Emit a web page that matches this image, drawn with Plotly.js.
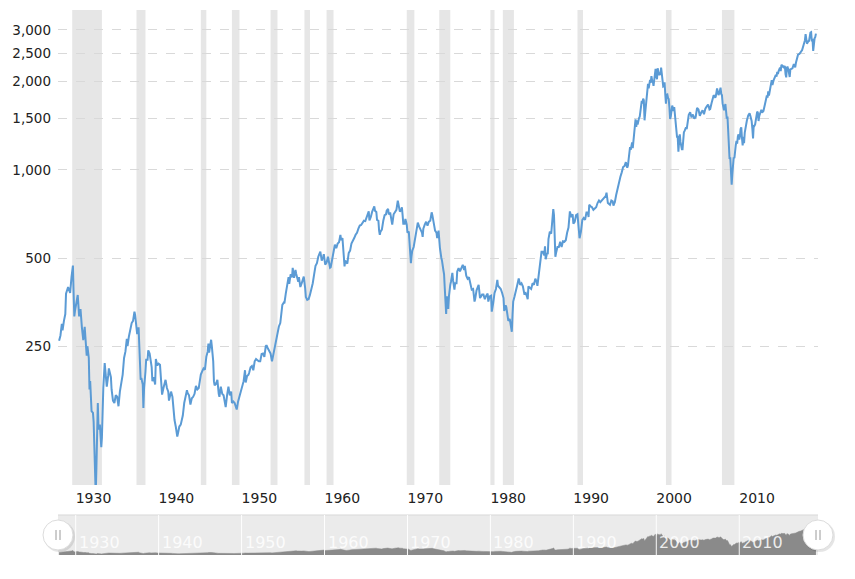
<!DOCTYPE html>
<html>
<head>
<meta charset="utf-8">
<script src="https://cdn.plot.ly/plotly-3.0.1.min.js"></script>
<style>html,body{margin:0;padding:0;background:#fff;}#chart{width:855px;height:579px;}</style>
</head>
<body>
<div id="chart"></div>
<script>
// Inflation-adjusted S&P 500 (monthly-ish readings from the reference)
const months = [
"1928-01","1928-03","1928-05","1928-06","1928-08","1928-10","1928-11","1928-12","1929-02","1929-03","1929-05","1929-07","1929-09","1929-10","1929-11","1929-12",
"1930-02","1930-04","1930-06","1930-08","1930-10","1930-12","1931-02","1931-04","1931-05","1931-06","1931-08","1931-09","1931-10","1931-12",
"1932-02","1932-03","1932-04","1932-05","1932-06","1932-07","1932-08","1932-09","1932-10","1932-11","1932-12","1933-02","1933-03","1933-04","1933-05","1933-07","1933-08","1933-10","1933-12",
"1934-01","1934-02","1934-04","1934-05","1934-07","1934-09","1934-11","1935-01","1935-03","1935-05","1935-07","1935-09","1935-11","1936-01","1936-03","1936-04","1936-06","1936-08","1936-10","1936-12",
"1937-02","1937-03","1937-04","1937-06","1937-08","1937-09","1937-10","1937-11","1937-12","1938-02","1938-03","1938-04","1938-06","1938-07","1938-09","1938-10","1938-12",
"1939-02","1939-03","1939-04","1939-06","1939-08","1939-09","1939-11","1940-01","1940-03","1940-05","1940-06","1940-08","1940-10","1940-11",
"1941-01","1941-03","1941-04","1941-07","1941-09","1941-10","1941-12","1942-02","1942-04","1942-05","1942-07","1942-09","1942-11","1942-12",
"1943-02","1943-04","1943-06","1943-07","1943-09","1943-11","1944-01","1944-03","1944-05","1944-07","1944-09","1944-11","1944-12",
"1945-02","1945-04","1945-06","1945-08","1945-10","1945-12","1946-01","1946-02","1946-04","1946-05","1946-06","1946-08","1946-09","1946-10","1946-12",
"1947-02","1947-04","1947-05","1947-07","1947-09","1947-11","1948-01","1948-02","1948-04","1948-06","1948-08","1948-10","1948-11",
"1949-01","1949-03","1949-06","1949-08","1949-10","1949-12","1950-02","1950-04","1950-06","1950-07","1950-09","1950-11","1950-12",
"1951-02","1951-04","1951-06","1951-08","1951-10","1951-12","1952-02","1952-04","1952-06","1952-08","1952-10","1952-12",
"1953-01","1953-03","1953-05","1953-07","1953-09","1953-11","1954-01","1954-03","1954-05","1954-07","1954-09","1954-11","1954-12",
"1955-02","1955-03","1955-05","1955-07","1955-09","1955-10","1955-12","1956-02","1956-03","1956-05","1956-07","1956-08","1956-10","1956-11","1956-12",
"1957-02","1957-04","1957-07","1957-09","1957-10","1957-12","1958-02","1958-04","1958-06","1958-08","1958-10","1958-12",
"1959-02","1959-04","1959-07","1959-09","1959-11","1959-12","1960-02","1960-04","1960-06","1960-07","1960-09","1960-10","1960-12",
"1961-02","1961-04","1961-06","1961-08","1961-10","1961-12","1962-01","1962-03","1962-05","1962-06","1962-07","1962-09","1962-10","1962-12",
"1963-02","1963-04","1963-06","1963-08","1963-10","1963-12","1964-02","1964-04","1964-06","1964-08","1964-10","1964-12",
"1965-02","1965-04","1965-05","1965-06","1965-08","1965-10","1965-12","1966-01","1966-02","1966-04","1966-05","1966-07","1966-08","1966-09","1966-10","1966-12",
"1967-02","1967-04","1967-06","1967-07","1967-09","1967-10","1967-12","1968-02","1968-03","1968-05","1968-07","1968-09","1968-11","1968-12",
"1969-02","1969-04","1969-05","1969-06","1969-07","1969-09","1969-10","1969-12","1970-01","1970-03","1970-04","1970-05","1970-06","1970-07","1970-08","1970-10","1970-12",
"1971-02","1971-04","1971-06","1971-08","1971-10","1971-11","1971-12","1972-02","1972-04","1972-06","1972-08","1972-10","1972-12",
"1973-01","1973-03","1973-05","1973-07","1973-08","1973-10","1973-11","1973-12","1974-02","1974-03","1974-05","1974-06","1974-07","1974-08","1974-09","1974-10","1974-11","1974-12",
"1975-01","1975-02","1975-03","1975-04","1975-06","1975-07","1975-09","1975-10","1975-12","1976-01","1976-03","1976-05","1976-07","1976-09","1976-11","1976-12",
"1977-02","1977-04","1977-06","1977-08","1977-10","1977-12","1978-02","1978-03","1978-05","1978-08","1978-10","1978-11",
"1979-01","1979-03","1979-05","1979-07","1979-09","1979-10","1979-12","1980-02","1980-03","1980-05","1980-07","1980-09","1980-11","1980-12",
"1981-02","1981-04","1981-06","1981-08","1981-09","1981-11","1981-12","1982-02","1982-03","1982-05","1982-07","1982-08","1982-09","1982-10","1982-12",
"1983-02","1983-04","1983-06","1983-08","1983-10","1983-12","1984-02","1984-04","1984-06","1984-07","1984-08","1984-10","1984-12",
"1985-02","1985-04","1985-06","1985-08","1985-09","1985-11","1985-12","1986-02","1986-03","1986-05","1986-07","1986-08","1986-09","1986-11","1986-12",
"1987-01","1987-03","1987-05","1987-07","1987-08","1987-09","1987-10","1987-11","1987-12","1988-02","1988-04","1988-06","1988-08","1988-10","1988-12",
"1989-02","1989-04","1989-06","1989-08","1989-10","1989-12","1990-01","1990-03","1990-05","1990-07","1990-08","1990-10","1990-12",
"1991-02","1991-04","1991-06","1991-08","1991-10","1991-11","1991-12","1992-02","1992-04","1992-06","1992-08","1992-10","1992-12",
"1993-02","1993-04","1993-06","1993-08","1993-10","1993-12","1994-01","1994-03","1994-06","1994-08","1994-10","1994-11","1994-12",
"1995-01","1995-03","1995-05","1995-07","1995-09","1995-11","1995-12","1996-01","1996-03","1996-05","1996-07","1996-08","1996-09","1996-11","1996-12",
"1997-01","1997-02","1997-03","1997-04","1997-05","1997-06","1997-07","1997-08","1997-09","1997-10","1997-11","1997-12",
"1998-01","1998-02","1998-03","1998-04","1998-05","1998-06","1998-07","1998-08","1998-09","1998-10","1998-11","1998-12",
"1999-01","1999-02","1999-03","1999-04","1999-05","1999-06","1999-07","1999-08","1999-09","1999-10","1999-11","1999-12",
"2000-01","2000-02","2000-03","2000-04","2000-05","2000-06","2000-07","2000-08","2000-09","2000-10","2000-11","2000-12",
"2001-01","2001-02","2001-03","2001-04","2001-05","2001-06","2001-07","2001-08","2001-09","2001-10","2001-11","2001-12",
"2002-01","2002-02","2002-03","2002-04","2002-05","2002-06","2002-07","2002-08","2002-09","2002-10","2002-11","2002-12",
"2003-01","2003-02","2003-03","2003-04","2003-05","2003-06","2003-07","2003-08","2003-09","2003-10","2003-11","2003-12",
"2004-02","2004-04","2004-06","2004-08","2004-10","2004-12","2005-02","2005-04","2005-06","2005-08","2005-10","2005-12",
"2006-02","2006-04","2006-06","2006-07","2006-09","2006-11","2006-12","2007-02","2007-03","2007-05","2007-06","2007-07","2007-08","2007-10","2007-11","2007-12",
"2008-01","2008-03","2008-05","2008-06","2008-07","2008-08","2008-09","2008-10","2008-11","2008-12",
"2009-01","2009-02","2009-03","2009-04","2009-05","2009-06","2009-07","2009-08","2009-09","2009-10","2009-11","2009-12",
"2010-01","2010-02","2010-03","2010-04","2010-05","2010-06","2010-07","2010-08","2010-09","2010-10","2010-11","2010-12",
"2011-02","2011-04","2011-05","2011-06","2011-07","2011-08","2011-09","2011-10","2011-11","2011-12",
"2012-02","2012-03","2012-04","2012-05","2012-06","2012-08","2012-09","2012-10","2012-11","2012-12",
"2013-02","2013-04","2013-05","2013-06","2013-07","2013-08","2013-09","2013-11","2013-12",
"2014-01","2014-03","2014-06","2014-07","2014-08","2014-09","2014-10","2014-11","2014-12",
"2015-01","2015-02","2015-04","2015-05","2015-06","2015-07","2015-08","2015-09","2015-10","2015-11","2015-12",
"2016-01","2016-02","2016-03","2016-05","2016-06","2016-08","2016-10","2016-11","2016-12",
"2017-02","2017-04","2017-06","2017-08","2017-10","2017-12",
"2018-01","2018-02","2018-03","2018-05","2018-06","2018-08","2018-09","2018-10","2018-11","2018-12",
"2019-01","2019-02","2019-03","2019-04"
];
const realPrice = [
261,272,298,283,305,322,378,384,398,392,380,430,471,380,316,330,
360,374,316,335,290,262,291,256,232,250,228,178,190,150,
148,138,110,88,78,96,150,160,132,130,135,113,122,150,180,219,200,182,198,
210,205,196,178,163,160,170,168,156,175,190,200,228,240,265,250,270,285,300,305,
328,320,298,275,290,240,215,192,195,185,154,180,205,225,225,242,236,
220,212,190,196,185,226,215,218,216,178,171,180,190,192,
180,175,163,175,168,155,140,132,123,126,133,135,140,145,
160,170,177,173,170,158,166,168,172,183,178,180,187,
200,205,210,208,230,240,255,238,255,263,250,222,190,184,186,
192,172,168,182,172,170,162,155,170,182,170,175,160,
162,160,152,162,168,175,180,190,207,188,198,200,203,
212,214,207,222,226,224,222,222,235,236,230,250,
252,246,240,236,222,235,245,258,275,292,300,325,346,
352,350,378,412,430,408,440,430,463,428,455,442,425,415,430,
398,410,432,395,368,360,362,375,392,410,440,470,
480,505,526,490,505,515,475,482,505,488,463,465,495,
530,555,540,560,566,600,575,585,505,468,490,480,478,520,
530,560,570,585,600,610,630,645,648,660,670,668,
690,710,722,672,690,720,735,750,725,718,675,670,620,600,615,625,
670,700,705,725,735,705,715,660,650,705,715,730,785,755,
720,730,745,700,655,655,680,650,610,615,560,510,480,510,530,545,585,
625,660,640,625,610,590,630,650,665,645,665,670,716,
700,650,620,610,585,620,540,540,500,490,455,440,395,355,322,370,352,335,
370,395,405,415,445,420,390,410,410,450,462,450,465,474,455,470,
435,425,430,410,390,392,355,362,388,405,365,368,
375,375,362,372,378,355,370,372,328,350,380,392,421,402,
395,392,380,365,330,345,340,310,305,310,290,280,320,355,370,
385,405,426,405,410,400,378,380,369,362,400,396,392,
410,405,425,415,402,445,465,500,525,525,510,548,495,520,515,
580,615,605,680,734,700,530,505,520,545,545,568,545,570,568,
575,610,635,721,690,705,655,665,700,705,640,584,615,
675,685,675,715,715,690,760,750,745,730,740,745,770,
785,775,785,800,810,815,835,770,760,785,780,755,765,
775,820,868,915,945,980,1000,1022,1030,1062,1016,1034,1088,1195,1170,
1233,1240,1186,1255,1328,1385,1487,1401,1476,1426,1485,1502,
1517,1623,1703,1717,1683,1750,1728,1475,1566,1690,1790,1891,
1965,1896,1965,2028,1980,2087,2017,1999,1935,2053,2092,2212,
2092,2038,2220,2151,2104,2146,2107,2234,2107,2095,1926,1933,
1989,1799,1682,1803,1807,1759,1744,1632,1492,1522,1640,1656,
1627,1588,1637,1529,1516,1407,1296,1296,1152,1250,1321,1245,
1205,1176,1176,1274,1343,1357,1377,1397,1377,1452,1465,1541,
1573,1509,1544,1495,1514,1627,1607,1529,1568,1597,1548,1617,
1646,1671,1607,1612,1690,1779,1798,1769,1774,1896,1857,1798,1822,1906,1813,1798,
1681,1597,1676,1519,1495,1519,1382,1161,1088,1103,
1005,890,962,1051,1103,1095,1176,1213,1254,1228,1299,1321,
1269,1303,1377,1397,1281,1212,1296,1233,1340,1387,1384,1470,
1534,1558,1531,1504,1468,1382,1279,1419,1413,1429,
1539,1580,1564,1467,1527,1573,1602,1568,1575,1588,
1666,1759,1793,1764,1852,1793,1842,1980,2024,
1945,2029,2107,2078,2156,2122,2171,2230,2230,
2171,2283,2254,2269,2220,2264,2122,2068,2234,2239,2205,
2087,2073,2200,2225,2220,2293,2239,2318,2357,
2470,2484,2519,2563,2661,2764,
2906,2783,2695,2744,2754,2940,2950,2744,2798,2543,
2739,2808,2837,2916
];

// NBER recessions (shaded bands)
const recessionStart = ["1929-08","1937-05","1945-02","1948-11","1953-07","1957-08","1960-04","1969-12","1973-11","1980-01","1981-07","1990-07","2001-03","2007-12"];
const recessionEnd   = ["1933-03","1938-06","1945-10","1949-10","1954-05","1958-04","1961-02","1970-11","1975-03","1980-07","1982-11","1991-03","2001-11","2009-06"];

// Axis ticks
const yTickVals = [250, 500, 1000, 1500, 2000, 2500, 3000];
const yTickText = ["250", "500", "1,000", "1,500", "2,000", "2,500", "3,000"];
const decadeYears = [1930, 1940, 1950, 1960, 1970, 1980, 1990, 2000, 2010];

const xRange = ["1927-11-14", "2019-07-01"];
const decadeDates = decadeYears.map(y => y + "-01-01");

const shapes = [];
recessionStart.forEach((s, i) => {
  shapes.push({type: "rect", xref: "x", yref: "y domain", x0: s + "-01", x1: recessionEnd[i] + "-01",
    y0: 0, y1: 1, fillcolor: "#e6e6e6", line: {width: 0}, layer: "below"});
});
// navigator background
shapes.push({type: "rect", xref: "paper", yref: "y2 domain", x0: 0, x1: 1, y0: 0, y1: 1,
  fillcolor: "#ebebeb", line: {width: 0}, layer: "below"});
shapes.push({type: "line", xref: "paper", yref: "y2 domain", x0: 0, x1: 1, y0: 1, y1: 1,
  line: {color: "#d9d9d9", width: 1}, layer: "above"});
decadeDates.forEach(d => {
  shapes.push({type: "line", xref: "x2", yref: "y2 domain", x0: d, x1: d, y0: 0, y1: 1,
    line: {color: "rgba(255,255,255,0.95)", width: 1}, layer: "above"});
});
// handles
const handleY = 0.0367;
[0, 1].forEach(px => {
  shapes.push({type: "circle", xref: "paper", yref: "paper", xsizemode: "pixel", ysizemode: "pixel",
    xanchor: px, yanchor: handleY, x0: -14, x1: 17, y0: -17, y1: 14,
    fillcolor: "rgba(0,0,0,0.10)", line: {width: 0}, layer: "above"});
  shapes.push({type: "circle", xref: "paper", yref: "paper", xsizemode: "pixel", ysizemode: "pixel",
    xanchor: px, yanchor: handleY, x0: -15, x1: 15, y0: -15, y1: 15,
    fillcolor: "#ffffff", line: {color: "#dcdcdc", width: 1}, layer: "above"});
  [-2, 2].forEach(off => {
    shapes.push({type: "line", xref: "paper", yref: "paper", xsizemode: "pixel", ysizemode: "pixel",
      xanchor: px, yanchor: handleY, x0: off, x1: off, y0: -5, y1: 5,
      line: {color: "#9a9a9a", width: 1}, layer: "above"});
  });
});

const annotations = decadeYears.map((y, i) => ({
  xref: "x2", yref: "y2 domain", x: decadeDates[i], y: 0.3, xanchor: "left", yanchor: "middle",
  xshift: 1, text: String(y), showarrow: false,
  font: {size: 16, color: "rgba(255,255,255,0.85)", family: "DejaVu Sans, Verdana, sans-serif"}
}));

const traces = [
  {x: months, y: realPrice, type: "scatter", mode: "lines", xaxis: "x", yaxis: "y",
   line: {color: "#5b9bd5", width: 2}, hoverinfo: "skip"},
  {x: months, y: realPrice, type: "scatter", mode: "lines", xaxis: "x2", yaxis: "y2",
   fill: "tozeroy", fillcolor: "#8a8a8a", line: {color: "#8a8a8a", width: 0.5}, hoverinfo: "skip"}
];

const layout = {
  width: 855, height: 579,
  margin: {l: 58, r: 37, t: 10, b: 24},
  paper_bgcolor: "#ffffff", plot_bgcolor: "rgba(0,0,0,0)",
  showlegend: false,
  font: {family: "DejaVu Sans, Verdana, sans-serif", color: "#222", size: 13},
  xaxis: {type: "date", range: xRange, anchor: "y", domain: [0, 1],
    tickvals: decadeDates, ticktext: decadeYears.map(String), ticks: "",
    ticklabelposition: "outside right", ticklabelstandoff: 3,
    showgrid: false, zeroline: false, showline: false, tickfont: {size: 14}, fixedrange: true},
  yaxis: {type: "log", range: [Math.log10(84), Math.log10(3510)], domain: [0.1284, 1], anchor: "x",
    tickvals: yTickVals, ticktext: yTickText, ticks: "", ticklabelstandoff: 6,
    showgrid: true, gridcolor: "#d9d9d9", griddash: "dash", gridwidth: 1,
    zeroline: false, showline: false, tickfont: {size: 13.5}, fixedrange: true},
  xaxis2: {type: "date", range: xRange, anchor: "y2", domain: [0, 1], showgrid: false,
    showticklabels: false, ticks: "", zeroline: false, showline: false, fixedrange: true},
  yaxis2: {range: [0, 4200], domain: [0, 0.0734], anchor: "x2", showgrid: false,
    showticklabels: false, ticks: "", zeroline: false, showline: false, fixedrange: true},
  shapes: shapes,
  annotations: annotations
};

Plotly.newPlot("chart", traces, layout, {displayModeBar: false, staticPlot: true});
</script>
</body>
</html>
